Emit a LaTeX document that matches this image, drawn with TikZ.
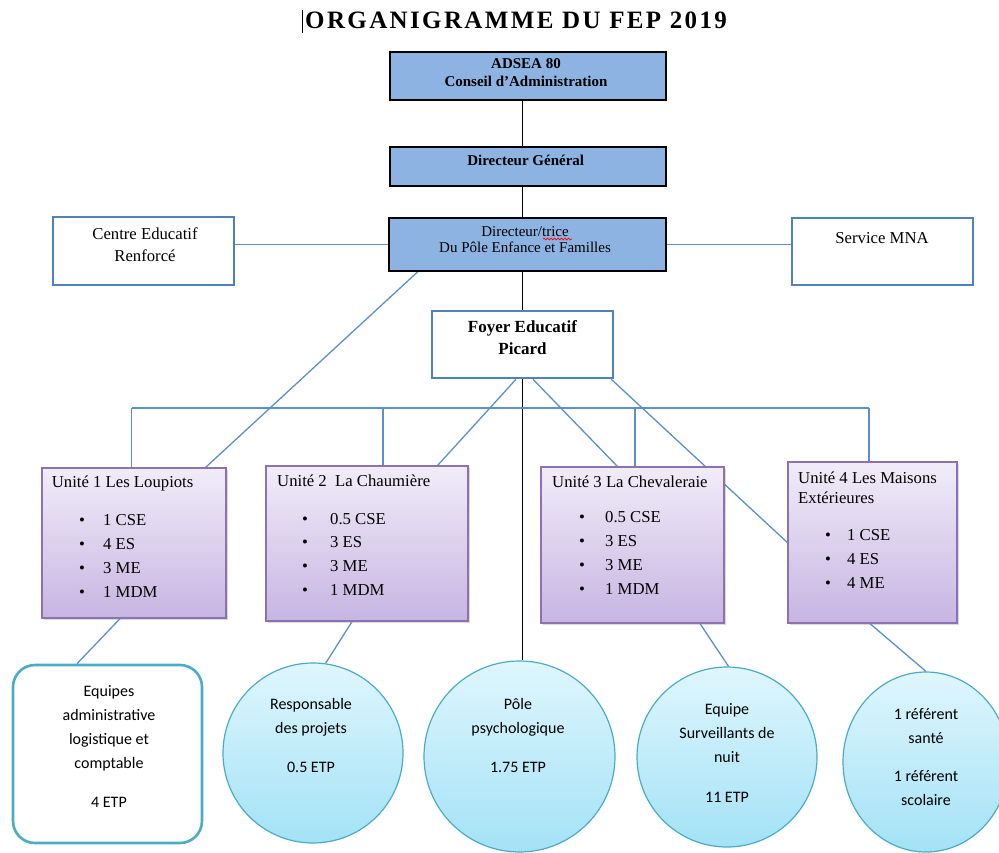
\documentclass[tikz,border=0pt]{standalone}
\usepackage{fontspec}
\setmainfont{Liberation Serif}
\newfontfamily\calib{Carlito}
\newfontfamily\titlef[LetterSpace=9.5]{Liberation Serif}
\usetikzlibrary{shadows,backgrounds,decorations.pathmorphing,shapes.geometric}
\definecolor{boxfill}{HTML}{8DB3E2}
\definecolor{accblue}{HTML}{4F81BD}
\definecolor{linkblue}{HTML}{5B8FD0}
\definecolor{unitedge}{HTML}{8C72B0}
\definecolor{unittop}{HTML}{F1ECF8}
\definecolor{unitbot}{HTML}{C7B5E2}
\definecolor{circedge}{HTML}{4BACC6}
\definecolor{circtop}{HTML}{DFF6FD}
\definecolor{circbot}{HTML}{A3E2F6}
\begin{document}
\begin{tikzpicture}[x=1pt,y=-1pt,
  topbox/.style={rectangle,draw=black,line width=1.3pt,fill=boxfill,inner sep=0pt},
  sidebox/.style={rectangle,draw=accblue,line width=2.6pt,fill=white,inner sep=0pt},
  unitbox/.style={rectangle,draw=unitedge,line width=1.3pt,top color=unittop,bottom color=unitbot,inner sep=0pt,
     drop shadow={shadow xshift=2pt,shadow yshift=-2pt,opacity=0.3}},
  circbox/.style={draw=circedge,line width=1.2pt,top color=circtop,bottom color=circbot,inner sep=0pt},
  blk/.style={draw=black,line width=1.3pt},
  lnk/.style={draw=linkblue,line width=1.3pt},
  txt/.style={inner sep=0pt,align=center,anchor=base},
  unittitle/.style={inner sep=0pt,align=left,anchor=base west,font=\fontsize{16.7}{20}\selectfont},
  items/.style={inner sep=0pt,align=left,anchor=base west,font=\fontsize{16.7}{23.8}\selectfont},
  ctext/.style={inner sep=0pt,align=center,anchor=base,font=\calib\fontsize{16}{24}\selectfont}]
\useasboundingbox (0,0) rectangle (999,852);

% title
\node[inner sep=0pt,anchor=base west,font=\titlef\bfseries\fontsize{25}{28}\selectfont] (title) at (305,28.3) {ORGANIGRAMME DU FEP 2019};
\draw[line width=0.8pt] (302.5,10) -- (302.5,33);

% top boxes
\node[topbox,minimum width=276pt,minimum height=48pt] (adsea) at (528,76) {};
\node[topbox,minimum width=276pt,minimum height=39pt] (dg) at (528,166.5) {};
\node[topbox,minimum width=277pt,minimum height=53pt] (dir) at (527.5,244.5) {};
\node[sidebox,minimum width=181pt,minimum height=68pt] (cer) at (143.5,251) {};
\node[sidebox,minimum width=181pt,minimum height=67pt] (mna) at (882.5,251.5) {};
\node[sidebox,minimum width=181pt,minimum height=67pt] (foyer) at (522.5,344.5) {};

\node[txt,font=\bfseries\fontsize{15}{18}\selectfont] (adseat) at (526,86) {ADSEA 80\\Conseil d'Administration};
\node[txt,font=\bfseries\fontsize{15}{18}\selectfont] (dgt) at (525.7,165) {Directeur Général};
\node[txt,font=\fontsize{15}{16}\selectfont] (dirt) at (525,252) {Directeur/trice\\Du Pôle Enfance et Familles};
\draw[red,line width=0.7pt,decorate,decoration={snake,amplitude=0.9pt,segment length=3.5pt}] (543,239) -- (572,239);
\node[txt,font=\fontsize{16.7}{22}\selectfont] (cert) at (145,261) {Centre Educatif\\Renforcé};
\node[txt,font=\fontsize{16.7}{22}\selectfont] (mnat) at (882,243) {Service MNA};
\node[txt,font=\bfseries\fontsize{17}{22}\selectfont] (foyert) at (522.5,354) {Foyer Educatif\\Picard};

% units
\node[unitbox,minimum width=184pt,minimum height=150pt] (u1) at (134,543) {};
\node[unitbox,minimum width=202pt,minimum height=155pt] (u2) at (367,543.5) {};
\node[unitbox,minimum width=183pt,minimum height=156pt] (u3) at (632.5,545) {};
\node[unitbox,minimum width=169pt,minimum height=161pt] (u4) at (872.5,542.5) {};

\node[unittitle] (u1t) at (51.7,487) {Unité 1 Les Loupiots};
\node[unittitle] (u2t) at (277,486.5) {Unité 2~ La Chaumière};
\node[unittitle] (u3t) at (552,487) {Unité 3 La Chevaleraie};
\node[unittitle] (u4t) at (798,503) {Unité 4 Les Maisons\\Extérieures};

\node[items] (u1i) at (79,597) {\makebox[24pt][l]{•}1 CSE\\\makebox[24pt][l]{•}4 ES\\\makebox[24pt][l]{•}3 ME\\\makebox[24pt][l]{•}1 MDM};
\node[items] (u2i) at (302,595.5) {\makebox[28pt][l]{•}0.5 CSE\\\makebox[28pt][l]{•}3 ES\\\makebox[28pt][l]{•}3 ME\\\makebox[28pt][l]{•}1 MDM};
\node[items] (u3i) at (579,594) {\makebox[26pt][l]{•}0.5 CSE\\\makebox[26pt][l]{•}3 ES\\\makebox[26pt][l]{•}3 ME\\\makebox[26pt][l]{•}1 MDM};
\node[items] (u4i) at (825,588.5) {\makebox[22pt][l]{•}1 CSE\\\makebox[22pt][l]{•}4 ES\\\makebox[22pt][l]{•}4 ME};

% bottom
\node[rectangle,rounded corners=22pt,draw=circedge,line width=2.6pt,fill=white,minimum width=189pt,minimum height=178pt,inner sep=0pt] (rb) at (107.5,754) {};
\node[circbox,circle,minimum size=180pt] (c1) at (313,753) {};
\node[circbox,circle,minimum size=191pt] (c2) at (519.5,756.5) {};
\node[circbox,circle,minimum size=180pt] (c3) at (727,757) {};
\node[circbox,ellipse,minimum width=166pt,minimum height=180pt] (c4) at (926,762) {};

\node[ctext] (rbt) at (109,807) {Equipes\\administrative\\logistique et\\comptable\\[15pt]4 ETP};
\node[ctext] (c1t) at (311,772) {Responsable\\des projets\\[15pt]0.5 ETP};
\node[ctext] (c2t) at (518,772) {Pôle\\psychologique\\[15pt]1.75 ETP};
\node[ctext] (c3t) at (727,802) {Equipe\\Surveillants de\\nuit\\[16pt]11 ETP};
\node[ctext] (c4t) at (926,805) {1 référent\\santé\\[14pt]1 référent\\scolaire};

% connectors
\begin{pgfonlayer}{background}
\draw[blk] (adsea.south -| foyer) -- (dg.north -| foyer);
\draw[blk] (dg.south -| foyer) -- (dir.north -| foyer);
\draw[blk] (dir.south -| foyer) -- (foyer.north);
\draw[blk] (foyer.south) -- (foyer.south |- c2.north);
\draw[lnk] (dir.west) -- (dir.west -| cer.east);
\draw[lnk] (dir.east) -- (dir.east -| mna.west);
\draw[lnk] ([xshift=29.5pt]dir.south west) -- ([xshift=-21pt]u1.north east);
\coordinate (bL) at (131.5,408);
\coordinate (b2) at (383,408);
\coordinate (b3) at (635,408);
\coordinate (bR) at (869,408);
\draw[lnk] (bL) -- (bR);
\draw[lnk] (bL) -- (bL |- u1.north);
\draw[lnk] (b2) -- (b2 |- u2.north);
\draw[lnk] (b3) -- (b3 |- u3.north);
\draw[lnk] (bR) -- (bR |- u4.north);
\draw[lnk] ([xshift=-6.5pt]foyer.south) -- ([xshift=-31pt]u2.north east);
\draw[lnk] ([xshift=10.5pt]foyer.south) -- ([xshift=77pt]u3.north west);
\draw[lnk] ([xshift=-3pt]foyer.south east) -- (u4.west);
\draw[lnk] ([xshift=-14pt]u1.south) -- ([xshift=-30.5pt]rb.north);
\draw[lnk] ([xshift=-15pt]u2.south) -- (c1.82);
\draw[lnk] ([xshift=67.5pt]u3.south) -- (c3.89);
\draw[lnk] ([xshift=-2.5pt]u4.south) -- (c4.north);
\end{pgfonlayer}
\end{tikzpicture}
\end{document}
